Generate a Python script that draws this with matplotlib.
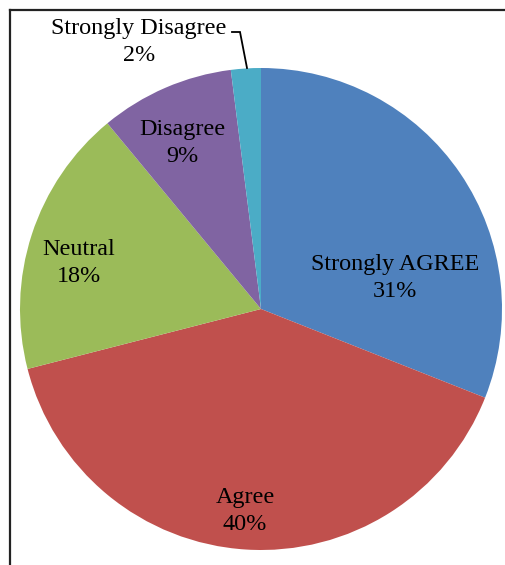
import matplotlib
matplotlib.use("Agg")
import matplotlib.pyplot as plt
from matplotlib.lines import Line2D

# survey responses
categories = ["Strongly AGREE", "Agree", "Neutral", "Disagree", "Strongly Disagree"]
shares = [31, 40, 18, 9, 2]
colors = ["#4F81BD", "#C0504D", "#9BBB59", "#8064A2", "#4BACC6"]

W, H = 506, 565
CX, CY, R = 261, 309, 241  # pie centre / radius in pixels (from top-left)

# label centres in pixels (from top-left)
label_px = [(395, 278), (245, 511), (79, 263), (182, 143), (139, 42)]


def px(x, y):
    """pixel (top-left origin) -> data units of the pie axes"""
    return (x - CX) / R, (CY - y) / R


fig = plt.figure(figsize=(W / 100, H / 100), dpi=100)
ax = fig.add_axes([0, 0, 1, 1])

ax.pie(shares, colors=colors, startangle=90, counterclock=False,
       radius=1, center=(0, 0), wedgeprops=dict(linewidth=0))

for name, val, (lx, ly) in zip(categories, shares, label_px):
    x, y = px(lx, ly)
    ax.text(x, y, f"{name}\n{val}%", ha="center", va="center",
            multialignment="center", fontsize=17.4, linespacing=1.32,
            family="Liberation Serif", color="black")

# leader line for the small slice
pts = [px(232, 32), px(240, 32), px(247, 68)]
ax.plot([p[0] for p in pts], [p[1] for p in pts], color="black", lw=1.3,
        solid_joinstyle="miter")

x0, _ = px(0, 0)
x1, _ = px(W, 0)
_, y0 = px(0, H)
_, y1 = px(0, 0)
ax.set_xlim(x0, x1)
ax.set_ylim(y0, y1)
ax.set_aspect("auto")
ax.axis("off")

# chart area border (top and left edges)
fig.add_artist(Line2D([10 / W, 1], [1 - 10 / H, 1 - 10 / H], color="#222222",
                      lw=1.6, transform=fig.transFigure))
fig.add_artist(Line2D([10 / W, 10 / W], [1 - 10 / H, 0], color="#222222",
                      lw=1.6, transform=fig.transFigure))

fig.savefig("out.png", dpi=100, facecolor="white")
